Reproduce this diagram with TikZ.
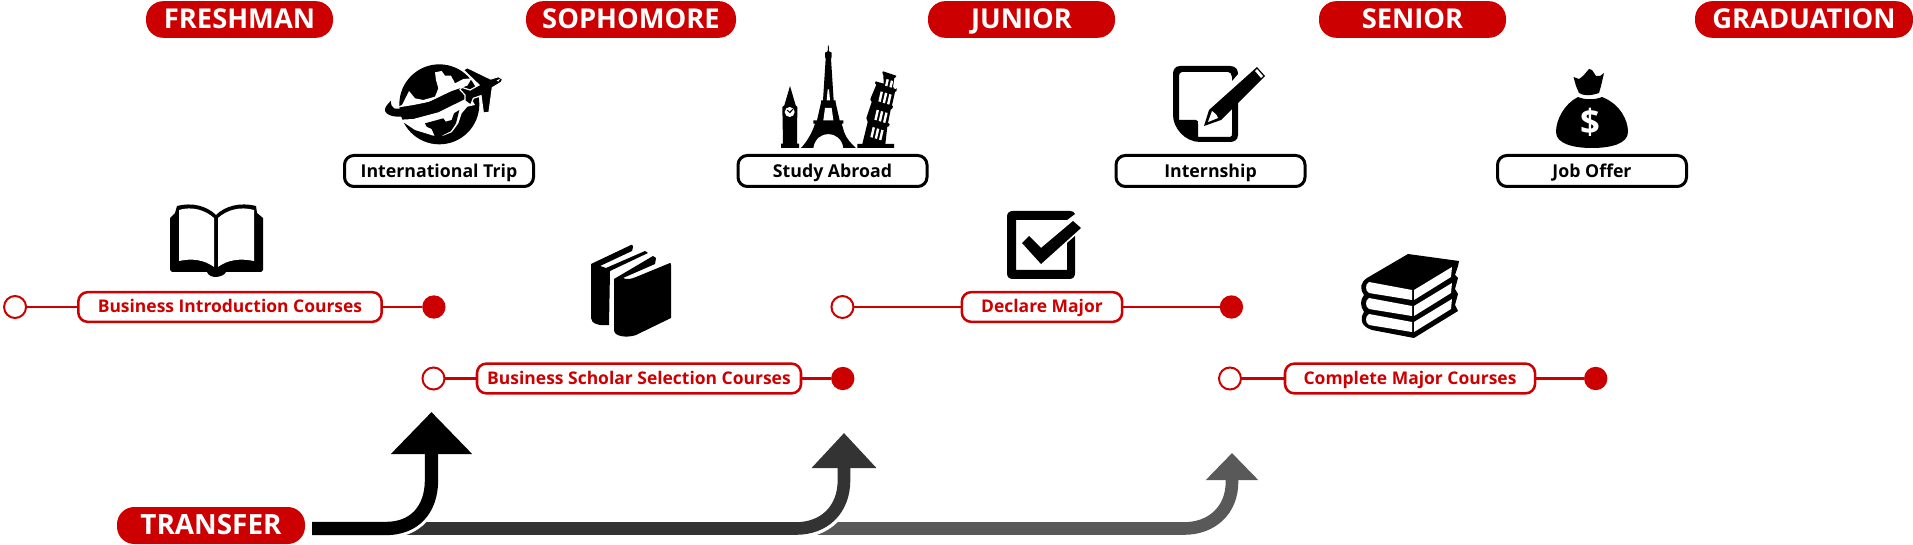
\documentclass[tikz,border=0pt]{standalone}
\usepackage{xcolor}
\usepackage{fontspec}
\setmainfont{Open Sans}
\usetikzlibrary{arrows.meta, positioning}
\definecolor{scarlet}{HTML}{CC0000}
\definecolor{risermid}{HTML}{333333}
\definecolor{riserlight}{HTML}{595959}

\begin{document}
\begin{tikzpicture}[
    x=0.75pt, y=-0.75pt,
    yearpill/.style={rectangle, rounded corners=13pt, fill=scarlet, text=white, inner sep=0pt, outer sep=0pt, minimum height=27.5pt, text height=13pt, text depth=0pt, font=\fontsize{20.5}{20.5}\bfseries},
    goalbox/.style={rectangle, rounded corners=7pt, draw=black, line width=2.25pt, fill=white, inner sep=0pt, outer sep=0pt, minimum width=141.75pt, minimum height=23.25pt, text height=9.3pt, text depth=0pt, font=\fontsize{13.3}{13.3}\bfseries},
    coursebox/.style={rectangle, rounded corners=7pt, draw=scarlet, line width=1.9pt, fill=white, text=scarlet, inner sep=0pt, outer sep=0pt, minimum height=22.25pt, text height=8.6pt, text depth=0pt, font=\fontsize{13.1}{13.1}\bfseries},
    startdot/.style={circle, draw=scarlet, line width=1.5pt, fill=white, inner sep=0pt, outer sep=0pt, minimum size=16.5pt},
    enddot/.style={circle, fill=scarlet, inner sep=0pt, outer sep=0pt, minimum size=17.5pt},
    track/.style={draw=scarlet, line width=1.7pt},
    casing/.style={draw=white, line width=14.5pt},
    icon/.style={fill=black, draw=none},
    hole/.style={fill=white, draw=none},
    riser/.style={line width=9.5pt}
  ]
    \useasboundingbox (0,0) rectangle (1913,545);

    \node[yearpill, minimum width=140.25pt] (freshman) at (239.5,19.5) {FRESHMAN};
    \node[yearpill, minimum width=157.5pt] (sophomore) at (631,19.5) {SOPHOMORE};
    \node[yearpill, minimum width=140.25pt] (junior) at (1021.5,19.5) {JUNIOR};
    \node[yearpill, minimum width=140.25pt] (senior) at (1412.5,19.5) {SENIOR};
    \node[yearpill, minimum width=163.5pt] (graduation) at (1804,19.5) {GRADUATION};
    \node[yearpill, minimum width=141pt, minimum height=27.75pt, font=\fontsize{20.9}{20.9}\bfseries] (transfer) at (211,525.5) {TRANSFER};

    \node[goalbox] (trip) at (439,171) {International Trip};
    \node[goalbox] (abroad) at (832.5,171) {Study Abroad};
    \node[goalbox] (internship) at (1210.5,171) {Internship};
    \node[goalbox] (joboffer) at (1592,171) {Job Offer};

    \node[coursebox, minimum width=227.5pt] (intro) at (230,307) {Business Introduction Courses};
    \node[startdot, left=39.2pt of intro] (introstart) {};
    \node[enddot, right=30.4pt of intro] (introend) {};
    \node[coursebox, minimum width=243pt] (scholar) at (639,378.5) {Business Scholar Selection Courses};
    \node[startdot, left=24.4pt of scholar] (scholarstart) {};
    \node[enddot, right=22.6pt of scholar] (scholarend) {};
    \node[coursebox, minimum width=120.25pt] (declare) at (1042,307) {Declare Major};
    \node[startdot, left=81.3pt of declare] (declarestart) {};
    \node[enddot, right=73.2pt of declare] (declareend) {};
    \node[coursebox, minimum width=187.5pt] (complete) at (1410,378.5) {Complete Major Courses};
    \node[startdot, left=33pt of complete] (completestart) {};
    \node[enddot, right=36.8pt of complete] (completeend) {};

    \draw[track] (introstart) -- (intro);
    \draw[track] (intro) -- (introend);
    \draw[track] (scholarstart) -- (scholar);
    \draw[track] (scholar) -- (scholarend);
    \draw[track] (declarestart) -- (declare);
    \draw[track] (declare) -- (declareend);
    \draw[track] (completestart) -- (complete);
    \draw[track] (complete) -- (completeend);

    \coordinate (rise1) at (312,528.5);
    \coordinate (rise2) at (396,528.5);
    \coordinate (rise3) at (812,528.5);
    \coordinate (head1) at (431.5,412);
    \coordinate (head2) at (844,433);
    \coordinate (head3) at (1232,453);

    \draw[riser, draw=riserlight, -{Triangle[length=20.25pt, width=38pt]}]
      (rise3) -- (1184,528.5) .. controls (1212,528.5) and (1232,510) .. (1232,482) -- (head3);
    \draw[casing] (rise2) -- (796,528.5) .. controls (824,528.5) and (844,510) .. (844,480);
    \draw[riser, draw=risermid, -{Triangle[length=26.25pt, width=47pt]}]
      (rise2) -- (796,528.5) .. controls (824,528.5) and (844,510) .. (844,480) -- (head2);
    \draw[casing] (rise1) -- (386,528.5) .. controls (414,528.5) and (431.5,510) .. (431.5,480);
    \draw[riser, line width=10pt, draw=black, -{Triangle[length=31.5pt, width=59pt]}]
      (rise1) -- (386,528.5) .. controls (414,528.5) and (431.5,510) .. (431.5,480) -- (head1);

    % open book
    \fill[icon] (170,218) -- (175,213) -- (177,206) .. controls (192,202) and (207,206) .. (216,215) .. controls (225,206) and (240,202) .. (256,206) -- (257,213) -- (263,218) -- (263,270) -- (261,272) -- (226,272) .. controls (224,277) and (210,280) .. (207,272) -- (172,272) -- (170,270) -- cycle;
    \fill[hole] (179,210) .. controls (192,206) and (205,210) .. (214,218) -- (214,267) .. controls (205,260) and (192,258) .. (179,261) -- cycle;
    \fill[hole] (254,210) .. controls (240,206) and (227,210) .. (218,218) -- (218,267) .. controls (227,260) and (240,258) .. (254,261) -- cycle;

    % globe and plane
    \begin{scope}[shift={(380,55)}, x=0.25pt, y=-0.25pt]
      \fill[icon] (178,148) circle (120);
      \fill[hole] (165,52) -- (185,48) -- (195,62) -- (213,62) -- (225,85) -- (250,72) -- (275,70) -- (262,92) -- (215,108) -- (185,122) -- (150,140) -- (100,150) -- (50,158) -- (66,150) -- (87,108) -- (105,130) -- (130,135) -- (165,125) -- (175,100) -- (168,75) -- cycle;
      \fill[hole] (45,195) -- (100,192) -- (175,172) -- (240,140) -- (270,125) -- (285,150) -- (262,155) -- (245,175) -- (235,205) -- (215,232) -- (190,242) -- (160,242) -- (105,225) -- (75,205) -- cycle;
      \fill[icon] (135,205) -- (190,190) -- (197,200) -- (215,195) -- (222,175) -- (238,165) -- (228,205) -- (213,228) -- (180,245) -- (165,245) -- (155,222) -- (140,215) -- cycle;
      \fill[icon] (32,138) .. controls (22,148) and (12,160) .. (15,168) .. controls (25,190) and (70,188) .. (110,178) .. controls (160,165) and (215,145) .. (245,120) -- (238,106) .. controls (205,115) and (175,130) .. (130,147) .. controls (100,155) and (60,165) .. (42,160) .. controls (35,155) and (32,148) .. (32,138) -- cycle;
      \filldraw[fill=black, draw=white, line width=0.9pt] (368,72) -- (355,65) -- (332,72) -- (262,38) -- (250,45) -- (297,90) -- (270,105) -- (245,97) -- (240,104) -- (255,120) -- (255,138) -- (272,150) -- (280,130) -- (303,122) -- (310,174) -- (327,172) -- (337,98) -- (364,82) -- cycle;
      \fill[hole] (350,76) -- (360,72) -- (355,80) -- cycle;
    \end{scope}

    % landmarks
    \begin{scope}[shift={(775,42)}, x=0.25pt, y=-0.25pt]
      \fill[icon] (18,318) -- (18,305) -- (24,305) -- (22,195) -- (28,190) -- (45,132) -- (62,190) -- (67,195) -- (66,305) -- (72,305) -- (72,318) -- cycle;
      \fill[hole] (44,210) circle (15);
      \fill[icon] (43,212) -- (35,205) -- (37,203) -- (44,209) -- (53,200) -- (55,202) -- (45,214) -- cycle;
      \fill[icon] (78,318) .. controls (95,300) and (112,272) .. (120,245) -- (115,245) -- (115,235) -- (126,235) -- (138,182) -- (138,175) -- (144,175) -- (152,50) -- (150,45) -- (150,32) -- (158,28) -- (159,10) -- (161,10) -- (162,28) -- (170,32) -- (170,45) -- (168,50) -- (176,175) -- (182,175) -- (182,182) -- (194,235) -- (205,235) -- (205,245) -- (200,245) -- (208,272) .. controls (215,290) and (228,305) .. (243,318) -- (205,318) .. controls (198,262) and (122,262) .. (115,318) -- cycle;
      \fill[hole] (150,198) -- (170,198) -- (175,235) -- (145,235) -- cycle;
      \fill[hole] (158,142) -- (162,142) -- (165,175) -- (155,175) -- cycle;
      \fill[icon] (247,318) -- (247,306) -- (262,306) -- (278,240) -- (274,228) -- (276,222) -- (290,180) -- (286,172) -- (288,166) -- (304,128) -- (300,124) -- (302,118) -- (326,125) -- (325,100) -- (322,92) -- (324,88) -- (363,101) -- (363,105) -- (358,108) -- (354,136) -- (365,139) -- (365,146) -- (360,150) -- (351,190) -- (354,193) -- (352,199) -- (347,203) -- (339,243) -- (344,246) -- (342,253) -- (337,254) -- (331,306) -- (357,306) -- (357,318) -- cycle;
      \foreach \ox/\oy/\wh in {286/285/30, 298/233/30, 310/178/30, 330/131/20}{
        \foreach \wn in {0,1,2}{
          \fill[hole] (\ox+\wn*13,\oy+\wn*4) -- (\ox+\wn*13+7,\oy+\wn*4+2) -- (\ox+\wn*13+7+\wh*0.23,\oy+\wn*4+2-\wh) -- (\ox+\wn*13+\wh*0.23,\oy+\wn*4-\wh) -- cycle;
        }
      }
    \end{scope}

    % note and pencil
    \fill[icon] (1180,66) -- (1230,66) .. controls (1236,66) and (1238,70) .. (1238,74) -- (1232,81) -- (1232,77) .. controls (1232,74) and (1230,72) .. (1228,72) -- (1182,72) .. controls (1180,72) and (1179,74) .. (1179,76) -- (1179,120) -- (1196,120) .. controls (1198,120) and (1198,122) .. (1198,124) -- (1198,137) -- (1230,137) .. controls (1232,137) and (1232,135) .. (1232,133) -- (1232,103) -- (1238,96) -- (1238,135) .. controls (1238,140) and (1234,142) .. (1230,142) -- (1200,142) .. controls (1185,142) and (1173,128) .. (1173,115) -- (1173,74) .. controls (1173,70) and (1175,66) .. (1180,66) -- cycle;
    \fill[icon] (1204,126) -- (1209,110) -- (1257,67) -- (1265,76) -- (1221,120) -- cycle;
    \fill[hole] (1208,122) -- (1212,111) .. controls (1216,114) and (1218,116) .. (1218,118) -- cycle;
    \fill[hole] (1255,71) -- (1257,69) -- (1263,76) -- (1261,78) -- cycle;

    % check box
    \fill[icon] (1013,211) -- (1070,211) .. controls (1073,211) and (1074,212) .. (1075,214) -- (1067,220) -- (1016,220) -- (1016,270) -- (1067,270) -- (1067,243) -- (1075,236) -- (1075,273) .. controls (1075,277) and (1073,279) .. (1069,279) -- (1013,279) .. controls (1009,279) and (1007,277) .. (1007,273) -- (1007,217) .. controls (1007,213) and (1009,211) .. (1013,211) -- cycle;
    \fill[icon] (1022,243) -- (1029,236) -- (1041,248) -- (1073,221) -- (1081,228) -- (1041,264) -- cycle;

    % two upright books
    \fill[icon] (591,264) -- (631,245) .. controls (632,244) and (633,245) .. (633,247) -- (632,251) -- (600,266) -- (606,268) -- (645,251) -- (648,253) -- (610,271) -- (609,325) .. controls (600,326) and (591,324) .. (591,318) -- cycle;
    \fill[icon] (614,279) -- (653,256) -- (656,258) -- (655,264) -- (623,278) .. controls (627,280) and (631,279) .. (636,277) -- (670,263) .. controls (671,263) and (671,264) .. (671,265) -- (671,318) -- (636,335) .. controls (628,338) and (614,337) .. (614,330) -- cycle;

    % book stack
    \fill[icon] (1367,278) -- (1408,254) -- (1459,261) -- (1458,266) -- (1455,275) -- (1458,278) -- (1455,289) -- (1458,294) -- (1455,305) -- (1458,311) -- (1414,338) -- (1372,330) .. controls (1360,326) and (1360,318) .. (1364,312) .. controls (1360,306) and (1360,300) .. (1364,295) .. controls (1359,288) and (1361,282) .. (1367,278) -- cycle;
    \foreach \sy in {0,16,32}{
      \fill[hole] (1369,282+\sy) -- (1412,290+\sy) -- (1412,300+\sy) -- (1369,293+\sy) .. controls (1365,291+\sy) and (1365,284+\sy) .. (1369,282+\sy) -- cycle;
      \fill[hole] (1414,290+\sy) -- (1452,267+\sy) -- (1451,277+\sy) -- (1414,300+\sy) -- cycle;
    }

    % money bag
    \fill[icon] (1573.5,77) -- (1579,79) -- (1583,76) -- (1589,69) -- (1592,70) -- (1596,76) -- (1600,76) -- (1604,73) -- (1601,86) -- (1599,93) .. controls (1590,96) and (1584,96) .. (1579,93) -- (1576,86) -- cycle;
    \fill[icon] (1578,97) .. controls (1585,100) and (1595,100) .. (1602,97) .. controls (1620,104) and (1628,120) .. (1628,132) .. controls (1628,144) and (1610,148) .. (1592,148) .. controls (1574,148) and (1556,144) .. (1556,132) .. controls (1556,120) and (1564,104) .. (1578,97) -- cycle;
    \node[inner sep=0pt, text=white, font=\fontsize{26}{26}\bfseries] (dollar) at (1590,122) {\$};
  \end{tikzpicture}
\end{document}
